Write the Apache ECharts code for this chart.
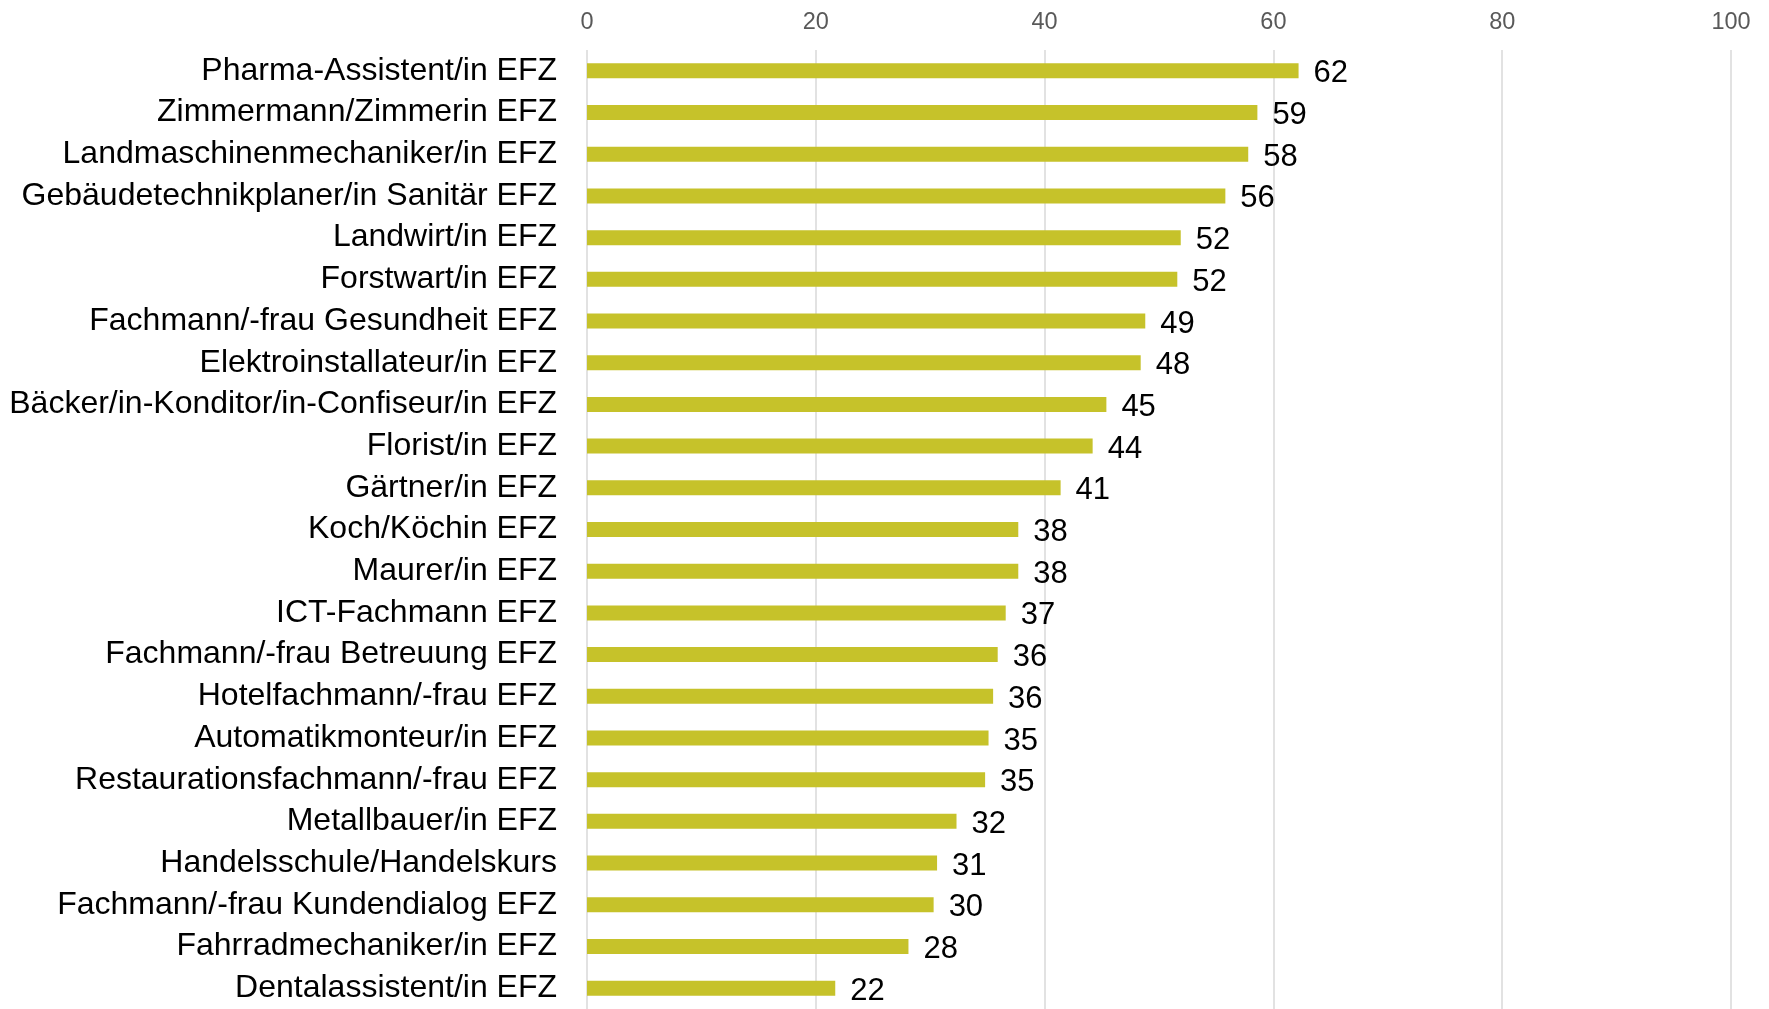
<!DOCTYPE html>
<html>
<head>
<meta charset="utf-8">
<script src="https://cdn.jsdelivr.net/npm/echarts@6/dist/echarts.min.js"></script>
<style>
html,body{margin:0;padding:0;background:#fff;}
#chart{width:1769px;height:1009px;}
</style>
</head>
<body>
<div id="chart"></div>
<script>
const categories = [
  "Pharma-Assistent/in EFZ",
  "Zimmermann/Zimmerin EFZ",
  "Landmaschinenmechaniker/in EFZ",
  "Gebäudetechnikplaner/in Sanitär EFZ",
  "Landwirt/in EFZ",
  "Forstwart/in EFZ",
  "Fachmann/-frau Gesundheit EFZ",
  "Elektroinstallateur/in EFZ",
  "Bäcker/in-Konditor/in-Confiseur/in EFZ",
  "Florist/in EFZ",
  "Gärtner/in EFZ",
  "Koch/Köchin EFZ",
  "Maurer/in EFZ",
  "ICT-Fachmann EFZ",
  "Fachmann/-frau Betreuung EFZ",
  "Hotelfachmann/-frau EFZ",
  "Automatikmonteur/in EFZ",
  "Restaurationsfachmann/-frau EFZ",
  "Metallbauer/in EFZ",
  "Handelsschule/Handelskurs",
  "Fachmann/-frau Kundendialog EFZ",
  "Fahrradmechaniker/in EFZ",
  "Dentalassistent/in EFZ"
];
// values (labels show the rounded value)
const values = [62.2, 58.6, 57.8, 55.8, 51.9, 51.6, 48.8, 48.4, 45.4, 44.2, 41.4, 37.7, 37.7, 36.6, 35.9, 35.5, 35.1, 34.8, 32.3, 30.6, 30.3, 28.1, 21.7];
const axisTicks = [0, 20, 40, 60, 80, 100];

const FONT = 'Liberation Sans, Arial, sans-serif';
const chart = echarts.init(document.getElementById('chart'));
chart.setOption({
  animation: false,
  backgroundColor: '#ffffff',
  textStyle: { fontFamily: FONT },
  grid: { left: 587, right: 38, top: 50, height: 962 },
  xAxis: {
    type: 'value',
    position: 'top',
    min: axisTicks[0],
    max: axisTicks[axisTicks.length - 1],
    interval: axisTicks[1] - axisTicks[0],
    axisLine: { show: false },
    axisTick: { show: false },
    axisLabel: { color: '#595959', fontSize: 23.5, margin: 15, fontFamily: FONT },
    splitLine: { show: true, lineStyle: { color: '#d9d9d9', width: 1.5 } }
  },
  yAxis: {
    type: 'category',
    data: categories,
    inverse: true,
    axisLine: { show: false },
    axisTick: { show: false },
    axisLabel: { color: '#000000', fontSize: 32, margin: 30, padding: [2, 0, 0, 0], fontFamily: FONT }
  },
  series: [{
    type: 'bar',
    data: values,
    barWidth: 15,
    itemStyle: { color: '#c6c22a' },
    label: {
      show: true,
      position: 'right',
      distance: 15,
      color: '#000000',
      fontSize: 31,
      offset: [0, 3],
      fontFamily: FONT,
      formatter: p => String(Math.round(p.value))
    }
  }]
});
</script>
</body>
</html>
